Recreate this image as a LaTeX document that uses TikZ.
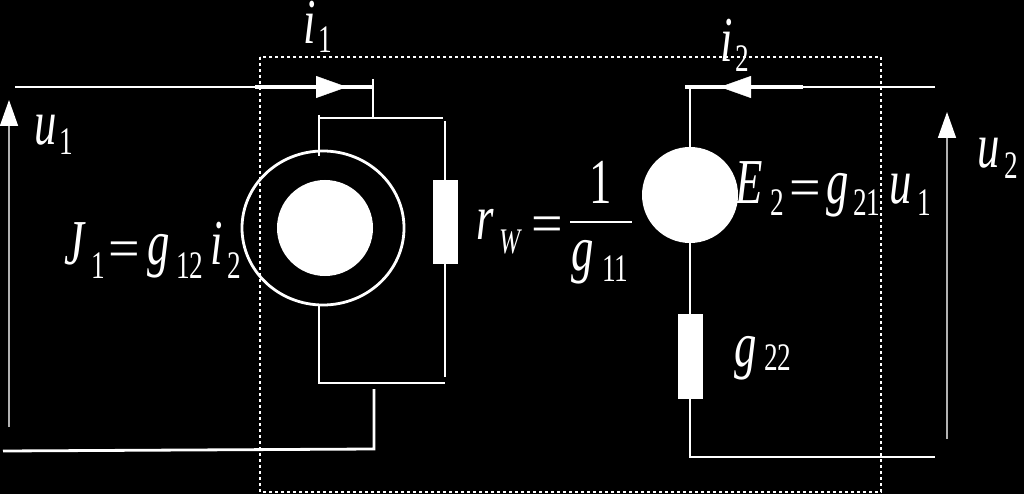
\documentclass[tikz,border=0pt]{standalone}
\usepackage{fontspec}
\usetikzlibrary{arrows.meta,shapes.geometric}
\newfontfamily\eqfont[FakeStretch=0.7]{Liberation Serif}
\newfontfamily\eqsign{Liberation Serif}
\newcommand{\bigit}[1]{{\fontsize{64}{64}\selectfont\eqfont\itshape #1}}
\newcommand{\smallnum}[1]{{\fontsize{39}{39}\selectfont\eqfont #1}}
\tikzset{
  wire/.style={white,line width=2.8pt},
  busbar/.style={white,line width=4pt},
  volt/.style={white!70!black,line width=1.6pt,-{Triangle[length=26pt,width=18pt,fill=white,color=white]}},
  dotbox/.style={white,line width=1.8pt,dash pattern=on 3pt off 3pt},
  blob/.style={circle,fill=white,minimum size=96pt,inner sep=0pt,outer sep=0pt},
  ring/.style={ellipse,draw=white,line width=2.8pt,minimum width=162pt,minimum height=154pt,inner sep=0pt,outer sep=0pt},
  resbox/.style={rectangle,fill=white,minimum width=25pt,inner sep=0pt,outer sep=0pt},
  lab/.style={white,anchor=base west,inner sep=0pt,outer sep=0pt},
  headA/.style={white,-{Triangle[length=31pt,width=22pt]}}
}
\begin{document}
\begin{tikzpicture}[x=1pt,y=-1pt]
  \useasboundingbox (0,0) rectangle (1024,494);
  \fill[black] (0,0) rectangle (1024,494);

  %dotted two-port box
  \draw[dotbox] (260,57) rectangle (881,492);

  %elements
  \node[ring] (ringJ) at (323,228) {};
  \node[blob] (srcJ) at (325,228) {};
  \node[resbox,minimum height=84pt] (resW) at (445,222) {};
  \node[blob] (srcE) at (690,195) {};
  \node[resbox,minimum height=85pt] (resG) at (690,356) {};

  %wire ends
  \foreach \name/\x/\y in {inA/15/87,midA/255/87,baseA/316/87,tipA/347/87,topA/373/87,
      stubA/373/79,stubB/373/118,teeL/319/118,teeLup/319/115,teeLdn/319/156,teeR/443/118,resTop/445/121,
      botLup/319/306,botL/319/383,botR/445/383,resBot/445/377,retTop/374/389,retBot/374/449,retEnd/3/451,
      inE/935/87,midE/803/87,baseE/749/87,tipE/720/87,topE/685/87,cornE/690/87,
      cornF/690/457,outF/935/457,
      fracL/570/222,fracR/632/222,
      voltAb/9/427,voltAt/9/100,voltEb/947/439,voltEt/947/112}{
    \coordinate (\name) at (\x,\y);
  }

  %left port
  \draw[wire] (inA) -- (midA);
  \draw[busbar] (midA) -- (topA);
  \draw[headA] (baseA) -- (tipA);
  \draw[wire] (stubA) -- (stubB);
  \draw[wire] (teeL) -- (teeR);
  \draw[wire] (teeLup) -- (teeLdn);
  \draw[wire] (resTop) -- (resW.north);
  \draw[wire] (resW.south) -- (resBot);
  \draw[wire] (botLup) -- (botL) -- (botR);
  \draw[wire] (retTop) -- (retBot) -- (retEnd);

  %right port
  \draw[wire] (inE) -- (midE);
  \draw[busbar] (midE) -- (topE);
  \draw[headA] (baseE) -- (tipE);
  \draw[wire] (cornE) -- (srcE.north);
  \draw[wire] (srcE.south) -- (resG.north);
  \draw[wire] (resG.south) -- (cornF) -- (outF);

  %voltages
  \draw[volt] (voltAb) -- (voltAt);
  \draw[volt] (voltEb) -- (voltEt);
  \draw[white,line width=2pt] (fracL) -- (fracR);

  %big letters
  \foreach \name/\x/\y/\txt in {li1/303/44/i,li2/720/62/i,lu1/34/145/u,lu2/977/168/u,
      lJ/64/264/J,lg12/147/264/g,li12/210/264/i,
      lr/476/240/r,lg11/571/270/g,
      lE/735/204/E,lg21/826/204/g,luE/889/204/u,lg22/734/366/g}{
    \node[lab] (\name) at (\x,\y) {\bigit{\txt}};
  }

  %equals signs and the one
  \foreach \name/\x/\y/\txt in {eqJ/108/267/=,eqW/531/243/=,eqE/789/207/=}{
    \node[lab] (\name) at (\x,\y) {\fontsize{56}{56}\selectfont\eqsign\txt};
  }
  \node[lab] (one) at (589,204) {\fontsize{64}{64}\selectfont\eqfont 1};

  %indices
  \foreach \name/\x/\y/\txt in {si1/318/53/1,si2/735/72/2,su1/59/155/1,su2/1004/179/2,
      sJ/91/278/1,sg12/176/278/12,si12/227/278/2,
      sg11/602/281/11,sE/770/215/2,sg21/853/215/21,suE/917/215/1,sg22/764/370/22}{
    \node[lab] (\name) at (\x,\y) {\smallnum{\txt}};
  }
  \node[lab] (sW) at (499,253) {\fontsize{36}{36}\selectfont\eqfont\itshape W};

\end{tikzpicture}
\end{document}
